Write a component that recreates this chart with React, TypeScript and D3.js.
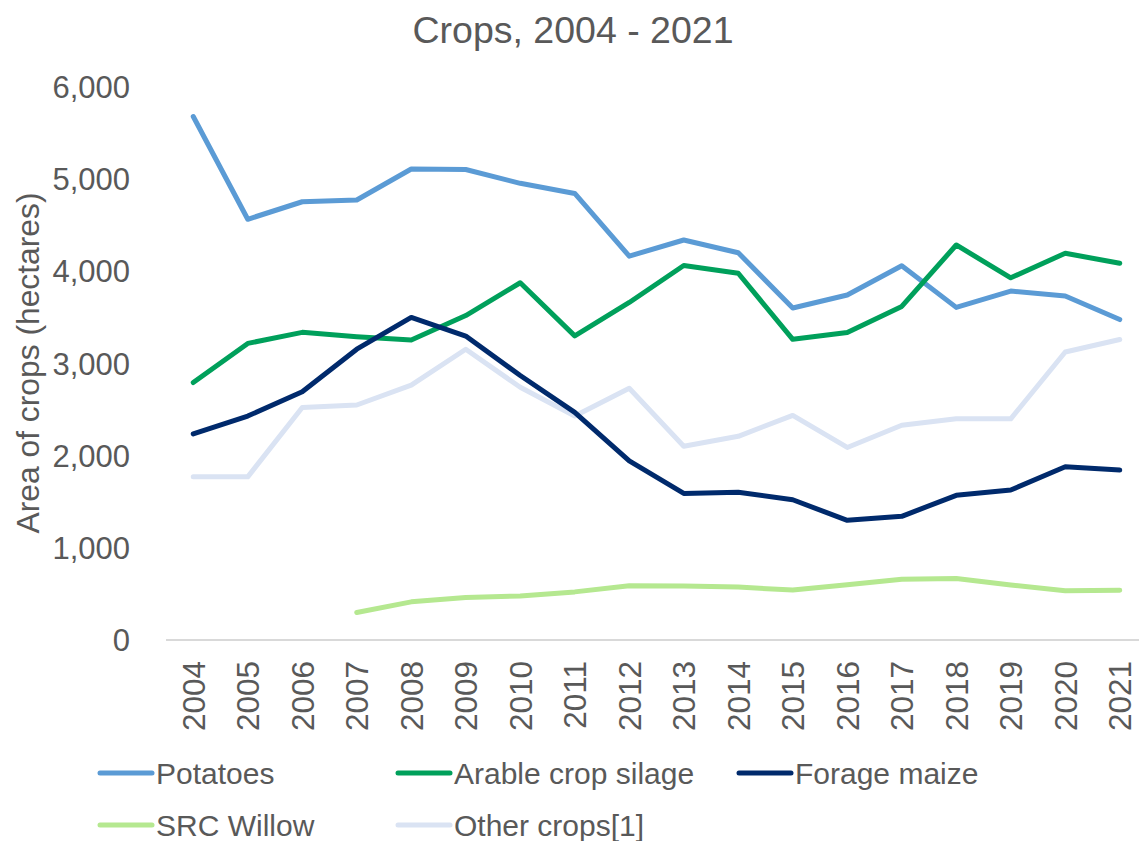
import React from "react";
import * as d3 from "d3";

const years = [2004, 2005, 2006, 2007, 2008, 2009, 2010, 2011, 2012, 2013, 2014, 2015, 2016, 2017, 2018, 2019, 2020, 2021];
const potatoes = [5680, 4565, 4755, 4774, 5110, 5105, 4955, 4845, 4165, 4340, 4202, 3602, 3743, 4060, 3609, 3786, 3732, 3477];
const arableSilage = [2794, 3218, 3338, 3291, 3255, 3520, 3876, 3300, 3662, 4063, 3979, 3262, 3336, 3619, 4286, 3930, 4196, 4088];
const forageMaize = [2236, 2430, 2693, 3155, 3500, 3298, 2870, 2470, 1944, 1590, 1603, 1522, 1298, 1342, 1570, 1627, 1879, 1844];
const srcWillow: (number | null)[] = [null, null, null, 298, 414, 462, 478, 522, 589, 586, 574, 542, 600, 660, 668, 596, 535, 539];
const otherCrops = [1770, 1770, 2522, 2550, 2765, 3155, 2742, 2430, 2731, 2103, 2210, 2437, 2089, 2330, 2400, 2400, 3125, 3260];
const yTicks = [0, 1000, 2000, 3000, 4000, 5000, 6000];

const seriesNames = ["Potatoes", "Arable crop silage", "Forage maize", "SRC Willow", "Other crops[1]"];
const seriesColors = ["#5B9BD5", "#00A05B", "#002A6C", "#B5E890", "#DAE3F3"];
const seriesData = [potatoes, arableSilage, forageMaize, srcWillow, otherCrops];

const FONT = "'Liberation Sans', Arial, sans-serif";
const TXT = "#595959";

export default function App() {
  const W = 1139, H = 841;
  const x = d3.scaleBand<number>().domain(years).range([166, 1147]);
  const cx = (yr: number) => (x(yr) as number) + x.bandwidth() / 2;
  const y = d3.scaleLinear().domain([0, 6000]).range([640, 87]);
  const fmt = d3.format(",");

  const line = d3
    .line<number | null>()
    .defined((d) => d !== null)
    .x((_, i) => cx(years[i]))
    .y((d) => y(d as number));

  const drawOrder = [4, 3, 0, 1, 2];

  const legendItems = [
    { i: 0, lx: 100, ly: 773 },
    { i: 1, lx: 398, ly: 773 },
    { i: 2, lx: 739, ly: 773 },
    { i: 3, lx: 100, ly: 825 },
    { i: 4, lx: 398, ly: 825 },
  ];

  return (
    <svg width={W} height={H} style={{ position: "absolute", left: 0, top: 0, background: "#fff" }} fontFamily={FONT}>
      <rect x={0} y={0} width={W} height={H} fill="#fff" />
      <text x={573} y={43} textAnchor="middle" fontSize={37.5} fill={TXT}>
        Crops, 2004 - 2021
      </text>
      {yTicks.map((t) => (
        <text key={t} x={130} y={y(t)} dy="0.36em" textAnchor="end" fontSize={31} fill={TXT}>
          {fmt(t)}
        </text>
      ))}
      <text
        transform={`translate(39,363) rotate(-90)`}
        textAnchor="middle"
        fontSize={31.8}
        fill={TXT}
      >
        Area of crops (hectares)
      </text>
      <line x1={166} x2={1147} y1={y(0)} y2={y(0)} stroke="#D9D9D9" strokeWidth={2} />
      {years.map((yr) => (
        <text
          key={yr}
          transform={`translate(${cx(yr)},661) rotate(-90)`}
          textAnchor="end"
          dy="0.36em"
          fontSize={31.5}
          fill={TXT}
        >
          {yr}
        </text>
      ))}
      {drawOrder.map((i) => (
        <path
          key={i}
          d={line(seriesData[i]) || ""}
          fill="none"
          stroke={seriesColors[i]}
          strokeWidth={5}
          strokeLinejoin="round"
          strokeLinecap="round"
        />
      ))}
      {legendItems.map(({ i, lx, ly }) => (
        <g key={i}>
          <line x1={lx} x2={lx + 52} y1={ly} y2={ly} stroke={seriesColors[i]} strokeWidth={5} strokeLinecap="round" />
          <text x={lx + 56} y={ly} dy="0.36em" fontSize={30} fill={TXT}>
            {seriesNames[i]}
          </text>
        </g>
      ))}
    </svg>
  );
}
